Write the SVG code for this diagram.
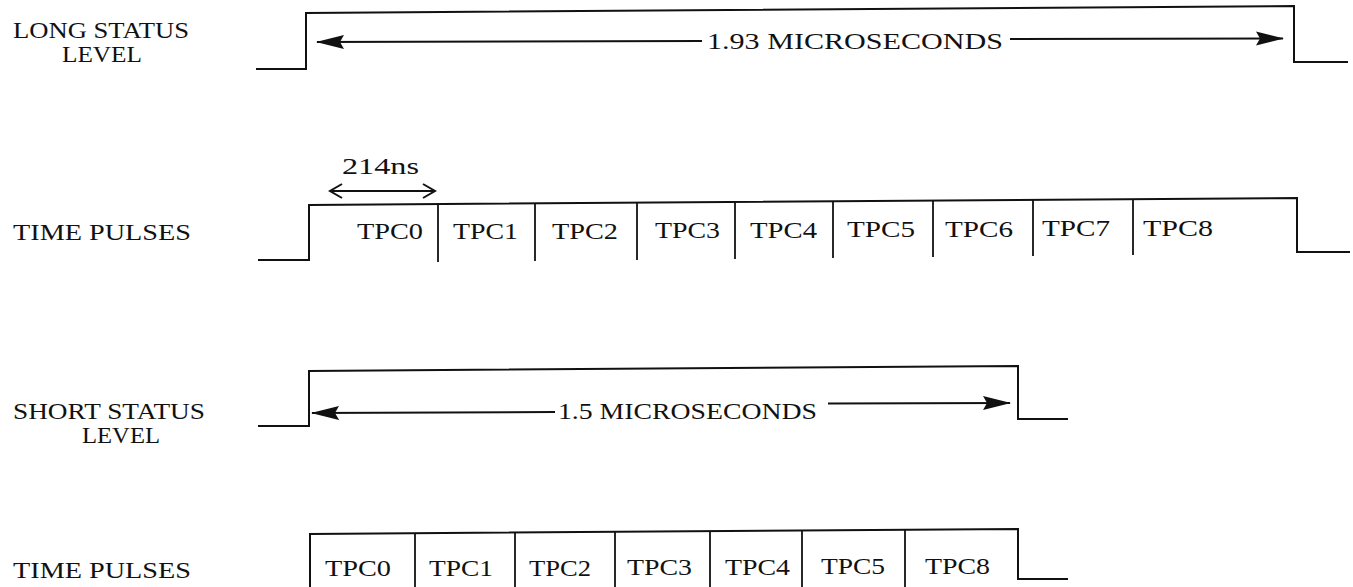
<svg xmlns="http://www.w3.org/2000/svg" width="1353" height="587" viewBox="0 0 1353 587">
<defs>
<style>
.sig{fill:none;stroke:#111;stroke-width:2;stroke-linejoin:miter}
.div{stroke:#111;stroke-width:1.8}
.dim{stroke:#111;stroke-width:2;fill:none}
.t{font-family:"Liberation Serif","Times New Roman",serif;font-size:24px;fill:#111}
</style>
<marker id="head" markerUnits="userSpaceOnUse" markerWidth="28" markerHeight="16" viewBox="0 0 28 16" refX="27" refY="8" orient="auto-start-reverse">
<path d="M0,1 L28,8 L0,15 L4,8 Z" fill="#111"/>
</marker>
<marker id="chev" markerUnits="userSpaceOnUse" markerWidth="16" markerHeight="16" viewBox="0 0 16 16" refX="14" refY="8" orient="auto-start-reverse" overflow="visible">
<path d="M2,1 L14,8 L2,15" fill="none" stroke="#111" stroke-width="2"/>
</marker>
</defs>
<rect width="1353" height="587" fill="#fff"/>

<g id="labels">
<text class="t" x="13" y="38" textLength="176" lengthAdjust="spacingAndGlyphs">LONG STATUS</text>
<text class="t" x="62" y="62" textLength="80" lengthAdjust="spacingAndGlyphs">LEVEL</text>
<text class="t" x="13" y="240" textLength="178" lengthAdjust="spacingAndGlyphs">TIME PULSES</text>
<text class="t" x="13" y="419" textLength="192" lengthAdjust="spacingAndGlyphs">SHORT STATUS</text>
<text class="t" x="82" y="443" textLength="78" lengthAdjust="spacingAndGlyphs">LEVEL</text>
<text class="t" x="13" y="578" textLength="178" lengthAdjust="spacingAndGlyphs">TIME PULSES</text>
</g>

<g id="long-status">
<polyline class="sig" points="256,69 306,69 306,13 1294,6 1294,62 1348,62"/>
<text class="t" x="707" y="49" textLength="296" lengthAdjust="spacingAndGlyphs">1.93 MICROSECONDS</text>
</g>

<g id="time-pulses-long">
<polyline class="sig" points="258,260 309,260 309,205 1297,198 1297,252 1350,252"/>
<line class="div" x1="438" y1="204" x2="438" y2="262"/>
<line class="div" x1="535" y1="203.4" x2="535" y2="261"/>
<line class="div" x1="637" y1="202.7" x2="637" y2="260"/>
<line class="div" x1="735" y1="202" x2="735" y2="259"/>
<line class="div" x1="833" y1="201.3" x2="833" y2="258"/>
<line class="div" x1="933" y1="200.6" x2="933" y2="257"/>
<line class="div" x1="1033" y1="199.9" x2="1033" y2="256"/>
<line class="div" x1="1133" y1="199.2" x2="1133" y2="255"/>
<text class="t" x="357" y="239" textLength="66" lengthAdjust="spacingAndGlyphs">TPC0</text>
<text class="t" x="453" y="239" textLength="65" lengthAdjust="spacingAndGlyphs">TPC1</text>
<text class="t" x="552" y="238.5" textLength="66" lengthAdjust="spacingAndGlyphs">TPC2</text>
<text class="t" x="655" y="238" textLength="65" lengthAdjust="spacingAndGlyphs">TPC3</text>
<text class="t" x="750" y="237.5" textLength="67" lengthAdjust="spacingAndGlyphs">TPC4</text>
<text class="t" x="847" y="237" textLength="68" lengthAdjust="spacingAndGlyphs">TPC5</text>
<text class="t" x="945" y="236.5" textLength="68" lengthAdjust="spacingAndGlyphs">TPC6</text>
<text class="t" x="1042" y="236" textLength="68" lengthAdjust="spacingAndGlyphs">TPC7</text>
<text class="t" x="1143" y="235.5" textLength="70" lengthAdjust="spacingAndGlyphs">TPC8</text>
<text class="t" x="342" y="174" textLength="77" lengthAdjust="spacingAndGlyphs">214ns</text>
</g>

<g id="short-status">
<polyline class="sig" points="258,426 309,426 309,371 1018,366 1018,419 1068,419"/>
<text class="t" x="558" y="419" textLength="259" lengthAdjust="spacingAndGlyphs">1.5 MICROSECONDS</text>
</g>

<g id="time-pulses-short">
<polyline class="sig" points="310,587 310,534 1018,529 1018,579 1068,579"/>
<line class="div" x1="415" y1="533.3" x2="415" y2="587"/>
<line class="div" x1="515" y1="532.6" x2="515" y2="587"/>
<line class="div" x1="615" y1="531.9" x2="615" y2="587"/>
<line class="div" x1="710" y1="531.2" x2="710" y2="587"/>
<line class="div" x1="802" y1="530.5" x2="802" y2="587"/>
<line class="div" x1="905" y1="529.8" x2="905" y2="587"/>
<text class="t" x="325" y="576" textLength="66" lengthAdjust="spacingAndGlyphs">TPC0</text>
<text class="t" x="429" y="576" textLength="64" lengthAdjust="spacingAndGlyphs">TPC1</text>
<text class="t" x="529" y="575.5" textLength="62" lengthAdjust="spacingAndGlyphs">TPC2</text>
<text class="t" x="627" y="575" textLength="65" lengthAdjust="spacingAndGlyphs">TPC3</text>
<text class="t" x="725" y="574.5" textLength="65" lengthAdjust="spacingAndGlyphs">TPC4</text>
<text class="t" x="821" y="574" textLength="64" lengthAdjust="spacingAndGlyphs">TPC5</text>
<text class="t" x="925" y="573.5" textLength="65" lengthAdjust="spacingAndGlyphs">TPC8</text>
</g>

<g id="connectors">
<line class="dim" x1="317" y1="42" x2="702" y2="41" marker-start="url(#head)"/>
<line class="dim" x1="1010" y1="39" x2="1283" y2="38.5" marker-end="url(#head)"/>
<line class="dim" x1="312" y1="413" x2="555" y2="412" marker-start="url(#head)"/>
<line class="dim" x1="828" y1="403.5" x2="1010" y2="403" marker-end="url(#head)"/>
<line class="dim" x1="330" y1="191" x2="435" y2="191" marker-start="url(#chev)" marker-end="url(#chev)"/>
</g>
</svg>
